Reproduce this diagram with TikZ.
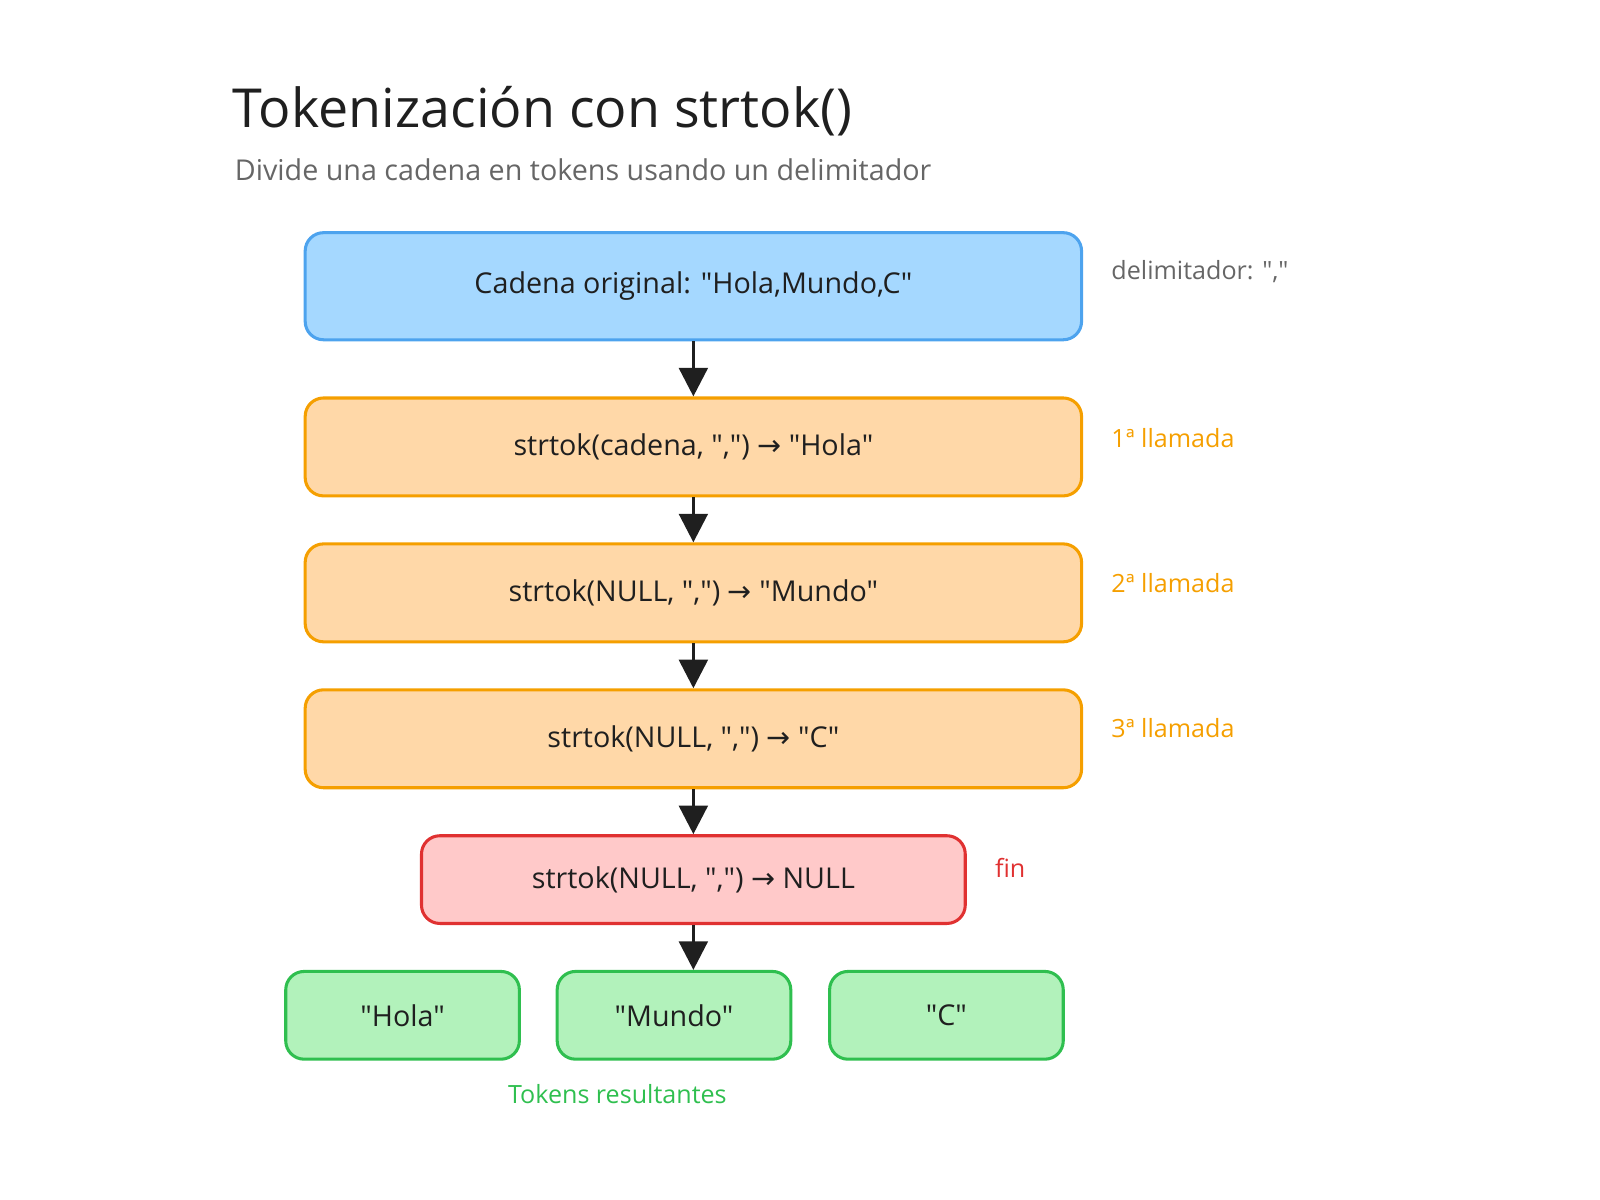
\documentclass[tikz,border=0pt]{standalone}
\usepackage{fontspec}
\setmainfont[Ligatures=TeXOff]{Open Sans}
\newfontfamily\arrowfont{DejaVu Sans}
\newcommand{\ra}{{\arrowfont →}}
\usetikzlibrary{arrows.meta, positioning}
\definecolor{blueFill}{HTML}{A5D8FF}
\definecolor{blueLine}{HTML}{4DA3EE}
\definecolor{orangeFill}{HTML}{FFD8A8}
\definecolor{orangeLine}{HTML}{F59F00}
\definecolor{redFill}{HTML}{FFC9C9}
\definecolor{redLine}{HTML}{E03131}
\definecolor{greenFill}{HTML}{B2F2BB}
\definecolor{greenLine}{HTML}{2FBF4F}
\definecolor{mainBlack}{gray}{0.12}

\begin{document}
\begin{tikzpicture}[x=0.02cm, y=-0.02cm,
    box/.style={rounded corners=0.36cm, line width=0.06cm, align=center,
        font=\fontsize{16}{19}\selectfont, text=mainBlack},
    callbox/.style={box, draw=orangeLine, fill=orangeFill, minimum width=15.22cm, minimum height=1.92cm},
    tokbox/.style={box, draw=greenLine, fill=greenFill, minimum width=4.58cm, minimum height=1.72cm},
    side/.style={anchor=west, font=\fontsize{14}{17}\selectfont},
    flow/.style={-{Triangle[length=0.56cm, width=0.56cm]}, line width=0.07cm, mainBlack}]
    \useasboundingbox (0,0) rectangle (1568,1176);

    \node[anchor=base west, font=\fontsize{30}{36}\selectfont, text=mainBlack] (title) at (222,125) {Tokenización con strtok()};
    \node[anchor=base west, font=\fontsize{16}{19}\selectfont, text=black!60] (sub) at (224,177) {Divide una cadena en tokens usando un delimitador};

    \node[box, draw=blueLine, fill=blueFill, minimum width=15.22cm, minimum height=2.1cm] (orig) at (679.5,280.5) {Cadena original: "Hola,Mundo,C"};
    \node[callbox] (call1) at (679.5,438) {strtok(cadena, ",") \ra{} "Hola"};
    \node[callbox] (call2) at (679.5,581) {strtok(NULL, ",") \ra{} "Mundo"};
    \node[callbox] (call3) at (679.5,724) {strtok(NULL, ",") \ra{} "C"};
    \node[box, draw=redLine, fill=redFill, minimum width=10.66cm, minimum height=1.72cm] (fin) at (679.5,862) {strtok(NULL, ",") \ra{} NULL};
    \node[tokbox] (tok1) at (394.5,995) {"Hola"};
    \node[tokbox] (tok2) at (660.5,995) {"Mundo"};
    \node[tokbox] (tok3) at (927.5,995) {"C"};

    \draw[flow] (orig) -- (call1);
    \draw[flow] (call1) -- (call2);
    \draw[flow] (call2) -- (call3);
    \draw[flow] (call3) -- (fin);
    \draw[flow] (fin.south) -- (fin.south |- tok2.north);

    \node[side, text=black!60] (delim) at (1083,266) {delimitador: ","};
    \node[side, text=orangeLine] (lab1) at (1083,429) {1ª llamada};
    \node[side, text=orangeLine] (lab2) at (1083,571) {2ª llamada};
    \node[side, text=orangeLine] (lab3) at (1083,714) {3ª llamada};
    \node[side, text=redLine] (labfin) at (969,851) {fin};
    \node[font=\fontsize{14}{17}\selectfont, text=greenLine] (labtok) at (605,1072) {Tokens resultantes};
\end{tikzpicture}
\end{document}
